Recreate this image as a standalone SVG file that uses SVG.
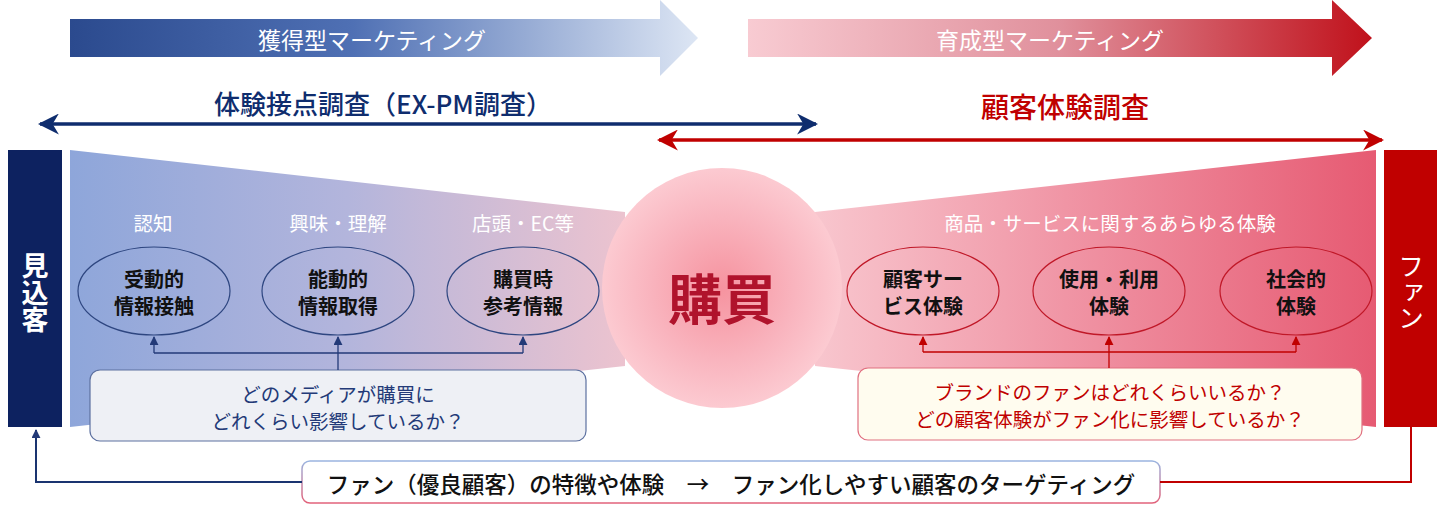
<svg xmlns="http://www.w3.org/2000/svg" width="1439" height="512" viewBox="0 0 1439 512">
<defs>
<linearGradient id="gBlueArrow" x1="70" y1="0" x2="698" y2="0" gradientUnits="userSpaceOnUse">
<stop offset="0" stop-color="#2b4a8e"/><stop offset="0.45" stop-color="#4f70b4"/><stop offset="1" stop-color="#dde6f4"/>
</linearGradient>
<linearGradient id="gRedArrow" x1="748" y1="0" x2="1372" y2="0" gradientUnits="userSpaceOnUse">
<stop offset="0" stop-color="#f8cbd2"/><stop offset="0.5" stop-color="#e0909c"/><stop offset="1" stop-color="#c0111b"/>
</linearGradient>
<linearGradient id="gLeftFunnel" x1="70" y1="0" x2="625" y2="0" gradientUnits="userSpaceOnUse">
<stop offset="0" stop-color="#8ea6da"/><stop offset="0.5" stop-color="#b3b5dc"/><stop offset="1" stop-color="#ecc3cf"/>
</linearGradient>
<linearGradient id="gRightFunnel" x1="815" y1="0" x2="1378" y2="0" gradientUnits="userSpaceOnUse">
<stop offset="0" stop-color="#f8c6ce"/><stop offset="0.5" stop-color="#ef8fa0"/><stop offset="1" stop-color="#e65a72"/>
</linearGradient>
<radialGradient id="gCircle" cx="0.5" cy="0.5" r="0.5">
<stop offset="0" stop-color="#f6939f"/><stop offset="0.6" stop-color="#f9b4be"/><stop offset="1" stop-color="#fccad1"/>
</radialGradient>
<linearGradient id="gBottomStroke" x1="0" y1="0" x2="0" y2="1">
<stop offset="0" stop-color="#9ab4e0"/><stop offset="1" stop-color="#e2627a"/>
</linearGradient>
<marker id="mNavy" viewBox="0 0 10 10" refX="9" refY="5" markerWidth="6" markerHeight="6" orient="auto-start-reverse" markerUnits="strokeWidth">
<path d="M0,0 L10,5 L0,10 L3,5 z" fill="#0f2d6e"/>
</marker>
<marker id="mRed" viewBox="0 0 10 10" refX="9" refY="5" markerWidth="6" markerHeight="6" orient="auto-start-reverse" markerUnits="strokeWidth">
<path d="M0,0 L10,5 L0,10 L3,5 z" fill="#c00000"/>
</marker>
<marker id="mSmallNavy" viewBox="0 0 10 10" refX="9" refY="5" markerWidth="9" markerHeight="9" orient="auto" markerUnits="userSpaceOnUse">
<path d="M0,0 L10,5 L0,10 z" fill="#233a78"/>
</marker>
<marker id="mSmallRed" viewBox="0 0 10 10" refX="9" refY="5" markerWidth="9" markerHeight="9" orient="auto" markerUnits="userSpaceOnUse">
<path d="M0,0 L10,5 L0,10 z" fill="#c00000"/>
</marker>
</defs>
<style>
text{font-family:"Noto Sans CJK JP","Noto Sans",sans-serif;text-anchor:middle;dominant-baseline:central}
.wt{fill:#ffffff}
.lab{fill:#ffffff;font-size:19.5px}
.ell{font-size:20px;font-weight:700;fill:#111111}
.ellB{fill:none;stroke:#2e4680;stroke-width:1.2}
.ellR{fill:none;stroke:#c01828;stroke-width:1.2}
.qB{fill:#233a78;font-size:19.5px}
.qR{fill:#c00000;font-size:19.5px}
.cn{fill:none;stroke:#233a78;stroke-width:1.3}
.cr{fill:none;stroke:#c00000;stroke-width:1.3}
.vt{writing-mode:vertical-rl;text-orientation:upright}
</style>

<g id="acquisition-arrow">
<path d="M70,19 H660 V0 L698,38 L660,76 V57 H70 Z" fill="url(#gBlueArrow)"/>
<text x="372" y="39" class="wt" font-size="23">獲得型マーケティング</text>
</g>
<g id="nurture-arrow">
<path d="M748,19 H1332 V0 L1372,38 L1332,76 V57 H748 Z" fill="url(#gRedArrow)"/>
<text x="1050" y="39" class="wt" font-size="23">育成型マーケティング</text>
</g>

<g id="ex-pm-survey">
<text x="383" y="102" font-size="26" font-weight="500" fill="#0f2d6e">体験接点調査（EX-PM調査）</text>
</g>
<g id="cx-survey">
<text x="1065" y="106" font-size="28" font-weight="500" fill="#c00000">顧客体験調査</text>
</g>

<g id="left-funnel">
<path d="M70,150 L625,212 L625,366 L70,427 Z" fill="url(#gLeftFunnel)"/>
</g>
<g id="right-funnel">
<path d="M815,212 L1376,150 L1376,427 L815,366 Z" fill="url(#gRightFunnel)"/>
</g>

<g id="prospect">
<rect x="8" y="150" width="54" height="277" fill="#0d2260"/>
<text x="35" y="293" class="wt vt" font-size="27" font-weight="700">見込客</text>
</g>
<g id="fan">
<rect x="1384" y="150" width="53" height="277" fill="#c00000"/>
<text x="1411" y="292" class="wt vt" font-size="26">ファン</text>
</g>

<g id="purchase">
<circle cx="722" cy="288" r="120" fill="url(#gCircle)"/>
<text x="722" y="296" font-size="54" font-weight="700" fill="#b0132c">購買</text>
</g>

<g id="stage-labels">
<text x="153" y="222" class="lab">認知</text>
<text x="338" y="222" class="lab">興味・理解</text>
<text x="523" y="222" class="lab">店頭・EC等</text>
<text x="1110" y="222" class="lab" font-size="20">商品・サービスに関するあらゆる体験</text>
</g>

<g id="passive-info">
<ellipse cx="154" cy="291" rx="76" ry="44" class="ellB"/>
<text x="154" y="278" class="ell">受動的</text>
<text x="154" y="305" class="ell">情報接触</text>
</g>
<g id="active-info">
<ellipse cx="338" cy="291" rx="76" ry="44" class="ellB"/>
<text x="338" y="278" class="ell">能動的</text>
<text x="338" y="305" class="ell">情報取得</text>
</g>
<g id="purchase-info">
<ellipse cx="523" cy="291" rx="76" ry="44" class="ellB"/>
<text x="523" y="278" class="ell">購買時</text>
<text x="523" y="305" class="ell">参考情報</text>
</g>
<g id="customer-service">
<ellipse cx="923" cy="291" rx="76" ry="44" class="ellR"/>
<text x="923" y="278" class="ell">顧客サー</text>
<text x="923" y="305" class="ell">ビス体験</text>
</g>
<g id="usage">
<ellipse cx="1109" cy="291" rx="76" ry="44" class="ellR"/>
<text x="1109" y="278" class="ell">使用・利用</text>
<text x="1109" y="305" class="ell">体験</text>
</g>
<g id="social">
<ellipse cx="1296" cy="291" rx="76" ry="44" class="ellR"/>
<text x="1296" y="278" class="ell">社会的</text>
<text x="1296" y="305" class="ell">体験</text>
</g>

<g id="media-question">
<rect x="90" y="370" width="496" height="71" rx="10" fill="#eef0f5" stroke="#5d71a0" stroke-width="1.2"/>
<text x="338" y="393" class="qB">どのメディアが購買に</text>
<text x="338" y="420" class="qB">どれくらい影響しているか？</text>
</g>
<g id="fan-question">
<rect x="858" y="368" width="504" height="72" rx="10" fill="#fffcef" stroke="#e07080" stroke-width="1.2"/>
<text x="1110" y="391" class="qR">ブランドのファンはどれくらいいるか？</text>
<text x="1110" y="418" class="qR">どの顧客体験がファン化に影響しているか？</text>
</g>

<g id="targeting">
<rect x="302" y="461" width="858" height="42" rx="8" fill="#ffffff" stroke="url(#gBottomStroke)" stroke-width="1.5"/>
<text x="731" y="483" font-size="22.5" font-weight="500" fill="#111111">ファン（優良顧客）の特徴や体験　→　ファン化しやすい顧客のターゲティング</text>
</g>

<g id="connectors">
<line x1="40" y1="124" x2="816" y2="124" stroke="#0f2d6e" stroke-width="3.5" marker-start="url(#mNavy)" marker-end="url(#mNavy)"/>
<line x1="659" y1="140" x2="1382" y2="140" stroke="#c00000" stroke-width="3.5" marker-start="url(#mRed)" marker-end="url(#mRed)"/>

<path d="M154,353 H523" class="cn"/>
<path d="M154,353 V337" class="cn" marker-end="url(#mSmallNavy)"/>
<path d="M338,370 V337" class="cn" marker-end="url(#mSmallNavy)"/>
<path d="M523,353 V337" class="cn" marker-end="url(#mSmallNavy)"/>

<path d="M923,352 H1296" class="cr"/>
<path d="M923,352 V337" class="cr" marker-end="url(#mSmallRed)"/>
<path d="M1109,368 V337" class="cr" marker-end="url(#mSmallRed)"/>
<path d="M1296,352 V337" class="cr" marker-end="url(#mSmallRed)"/>

<path d="M302,482 H36 V430" fill="none" stroke="#1a3470" stroke-width="2" marker-end="url(#mSmallNavy)"/>
<path d="M1160,482 H1411 V427" fill="none" stroke="#c00000" stroke-width="2"/>
</g>
</svg>
